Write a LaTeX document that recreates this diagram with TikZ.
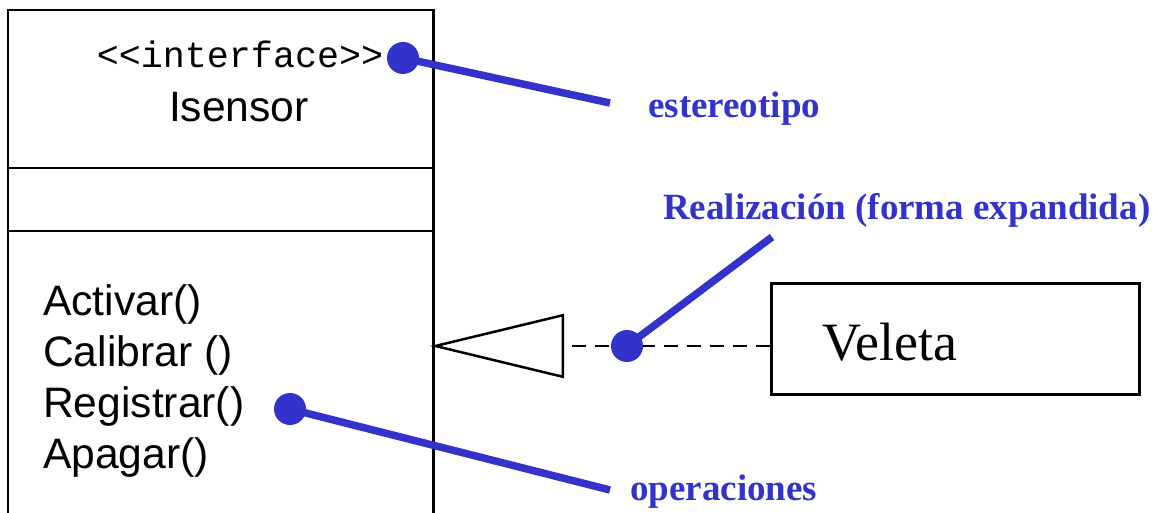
\documentclass[tikz,border=0pt]{standalone}
\usepackage{fontspec}
\setmainfont{Liberation Serif}
\setsansfont{Liberation Sans}
\setmonofont{Liberation Mono}
\usetikzlibrary{arrows.meta}
\definecolor{notecol}{RGB}{51,51,204}
\begin{document}
\begin{tikzpicture}[x=1pt,y=-1pt,
  classline/.style={line width=2.5pt, black},
  noteline/.style={line width=7.5pt, notecol},
  notedot/.style={circle, fill=notecol, inner sep=0pt, minimum size=32pt},
  notetext/.style={font=\fontsize{37}{44}\selectfont\bfseries, text=notecol, inner sep=0pt, anchor=base west},
  optext/.style={font=\sffamily\fontsize{42.6}{50}\selectfont, inner sep=0pt, anchor=base west},
  realiz/.style={classline, dash pattern=on 14pt off 9pt,
     -{Triangle[open, length=134pt, width=64pt, line width=2.5pt]}}
]
\useasboundingbox (0,0) rectangle (1161,513);
\fill[white] (0,0) rectangle (1161,513);

% interface class
\node[draw=none, minimum width=425pt, minimum height=505pt, anchor=north west, inner sep=0pt] (cls) at (8,10) {};
\draw[classline] (cls.south west) -- (cls.north west) -- (cls.north east) -- (cls.south east);
\coordinate (div1) at (8,168);
\coordinate (div2) at (8,231);
\draw[classline] (div1) -- (div1 -| cls.east);
\draw[classline] (div2) -- (div2 -| cls.east);

\node[font=\ttfamily\fontsize{36.7}{44}\selectfont, inner sep=0pt, anchor=base] (stereo) at (240,68) {<{}<interface>{}>};
\node[font=\sffamily\fontsize{42.6}{50}\selectfont, inner sep=0pt, anchor=base] (name) at (239,122) {Isensor};

\node[optext] (op1) at (43,315) {Activar()};
\node[optext] (op2) at (43,366) {Calibrar ()};
\node[optext] (op3) at (43,417) {Registrar()};
\node[optext] (op4) at (43,468) {Apagar()};

% Veleta class
\node[draw, line width=2.5pt, minimum width=368pt, minimum height=111pt, anchor=north west, inner sep=0pt] (veleta) at (770,282) {};
\node[font=\fontsize{54}{62}\selectfont, inner sep=0pt, anchor=base west] (veltext) at (822,360) {Veleta};

% realization
\coordinate (velin) at (770,346);
\coordinate (tip) at (430,346);
\draw[realiz] (velin) -- (tip);

% notes
\node[notetext] (lbl1) at (648,118) {estereotipo};
\node[notetext] (lbl2) at (663,219) {Realización (forma expandida)};
\node[notetext] (lbl3) at (630,500) {operaciones};

\coordinate (e1) at (610,103);
\coordinate (e2) at (772,237);
\coordinate (e3) at (610,490);

\node[notedot] (d1) at (403,58) {};
\node[notedot] (d2) at (627,346) {};
\node[notedot] (d3) at (290,409) {};

\draw[noteline] (d1.center) -- (e1);
\draw[noteline] (d2.center) -- (e2);
\draw[noteline] (d3.center) -- (e3);
\end{tikzpicture}
\end{document}
